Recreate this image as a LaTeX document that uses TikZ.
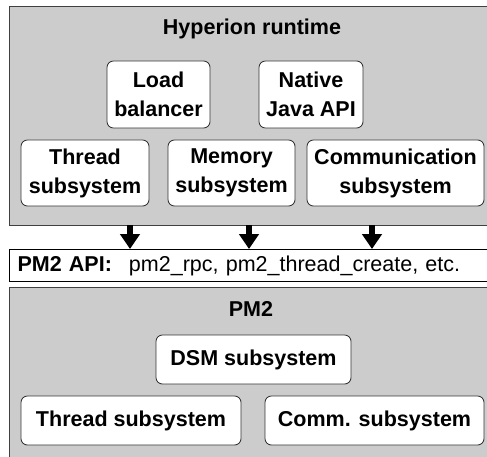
\documentclass[tikz,border=0pt]{standalone}
\usepackage{fontspec}
\setmainfont{Liberation Sans}
\usetikzlibrary{arrows.meta}
\newcommand\diagfont{\fontsize{15.3pt}{20.6pt}\selectfont}
\tikzset{
  >=latex,
  x=0.25mm,
  y=-0.25mm,
}
\tikzstyle{layer}=[draw=black!75,fill=black!20,line width=0.8pt,anchor=north west,inner sep=0pt]
\tikzstyle{apibox}=[draw=black,fill=white,line width=0.8pt,anchor=north west,inner ysep=0pt,inner xsep=2mm,align=left]
\tikzstyle{unit}=[draw=black!80,fill=white,line width=0.6pt,rounded corners=1.6mm,align=center,inner sep=0pt,font=\diagfont\bfseries]
\tikzstyle{title}=[font=\diagfont\bfseries]
\tikzstyle{bigarrow}=[line width=4.3pt,-{Triangle[width=13.5pt,length=10.5pt]}]
\tikzstyle{every node}=[font=\diagfont]

\begin{document}
\begin{tikzpicture}
        \useasboundingbox (0,0) rectangle (487,457);
        \clip (0,0) rectangle (487,457);
        \node[layer,minimum width=122mm,minimum height=54.75mm] (hyperion) at (9,6) {};
        \node[title] (hyptitle) at (252,29) {Hyperion runtime};
        \node[unit,minimum width=25.75mm,minimum height=16.75mm] (load) at (158.5,94.5) {Load\\balancer};
        \node[unit,minimum width=26mm,minimum height=16.75mm] (native) at (311,94.5) {Native\\Java API};
        \node[unit,minimum width=32mm,minimum height=16.5mm] (thread) at (85,173) {Thread\\subsystem};
        \node[unit,minimum width=31.75mm,minimum height=16.5mm] (memory) at (231.5,173) {Memory\\subsystem};
        \node[unit,minimum width=44.25mm,minimum height=16.5mm] (comm) at (395.5,173) {Communication\\subsystem};
        \node[apibox,text width=118mm,minimum height=8mm] (api) at (9,249) {\textbf{PM2 API:}\hspace{4.25mm}pm2\_rpc, pm2\_thread\_create, etc.};
        \coordinate (a1) at (130,225);
        \coordinate (a2) at (249,225);
        \coordinate (a3) at (372,225);
        \draw[bigarrow] (a1) -- (a1 |- api.north);
        \draw[bigarrow] (a2) -- (a2 |- api.north);
        \draw[bigarrow] (a3) -- (a3 |- api.north);
        \node[layer,minimum width=122mm,minimum height=42.5mm] (pm2) at (9,287) {};
        \node[title] (pmtitle) at (251,309) {PM2};
        \node[unit,minimum width=48.75mm,minimum height=12.25mm] (dsm) at (253.5,359.5) {DSM subsystem};
        \node[unit,minimum width=55mm,minimum height=12.25mm] (pmthread) at (131,420.5) {Thread subsystem};
        \node[unit,minimum width=54.75mm,minimum height=12.25mm] (pmcomm) at (374.5,420.5) {Comm. subsystem};
      \end{tikzpicture}
\end{document}
